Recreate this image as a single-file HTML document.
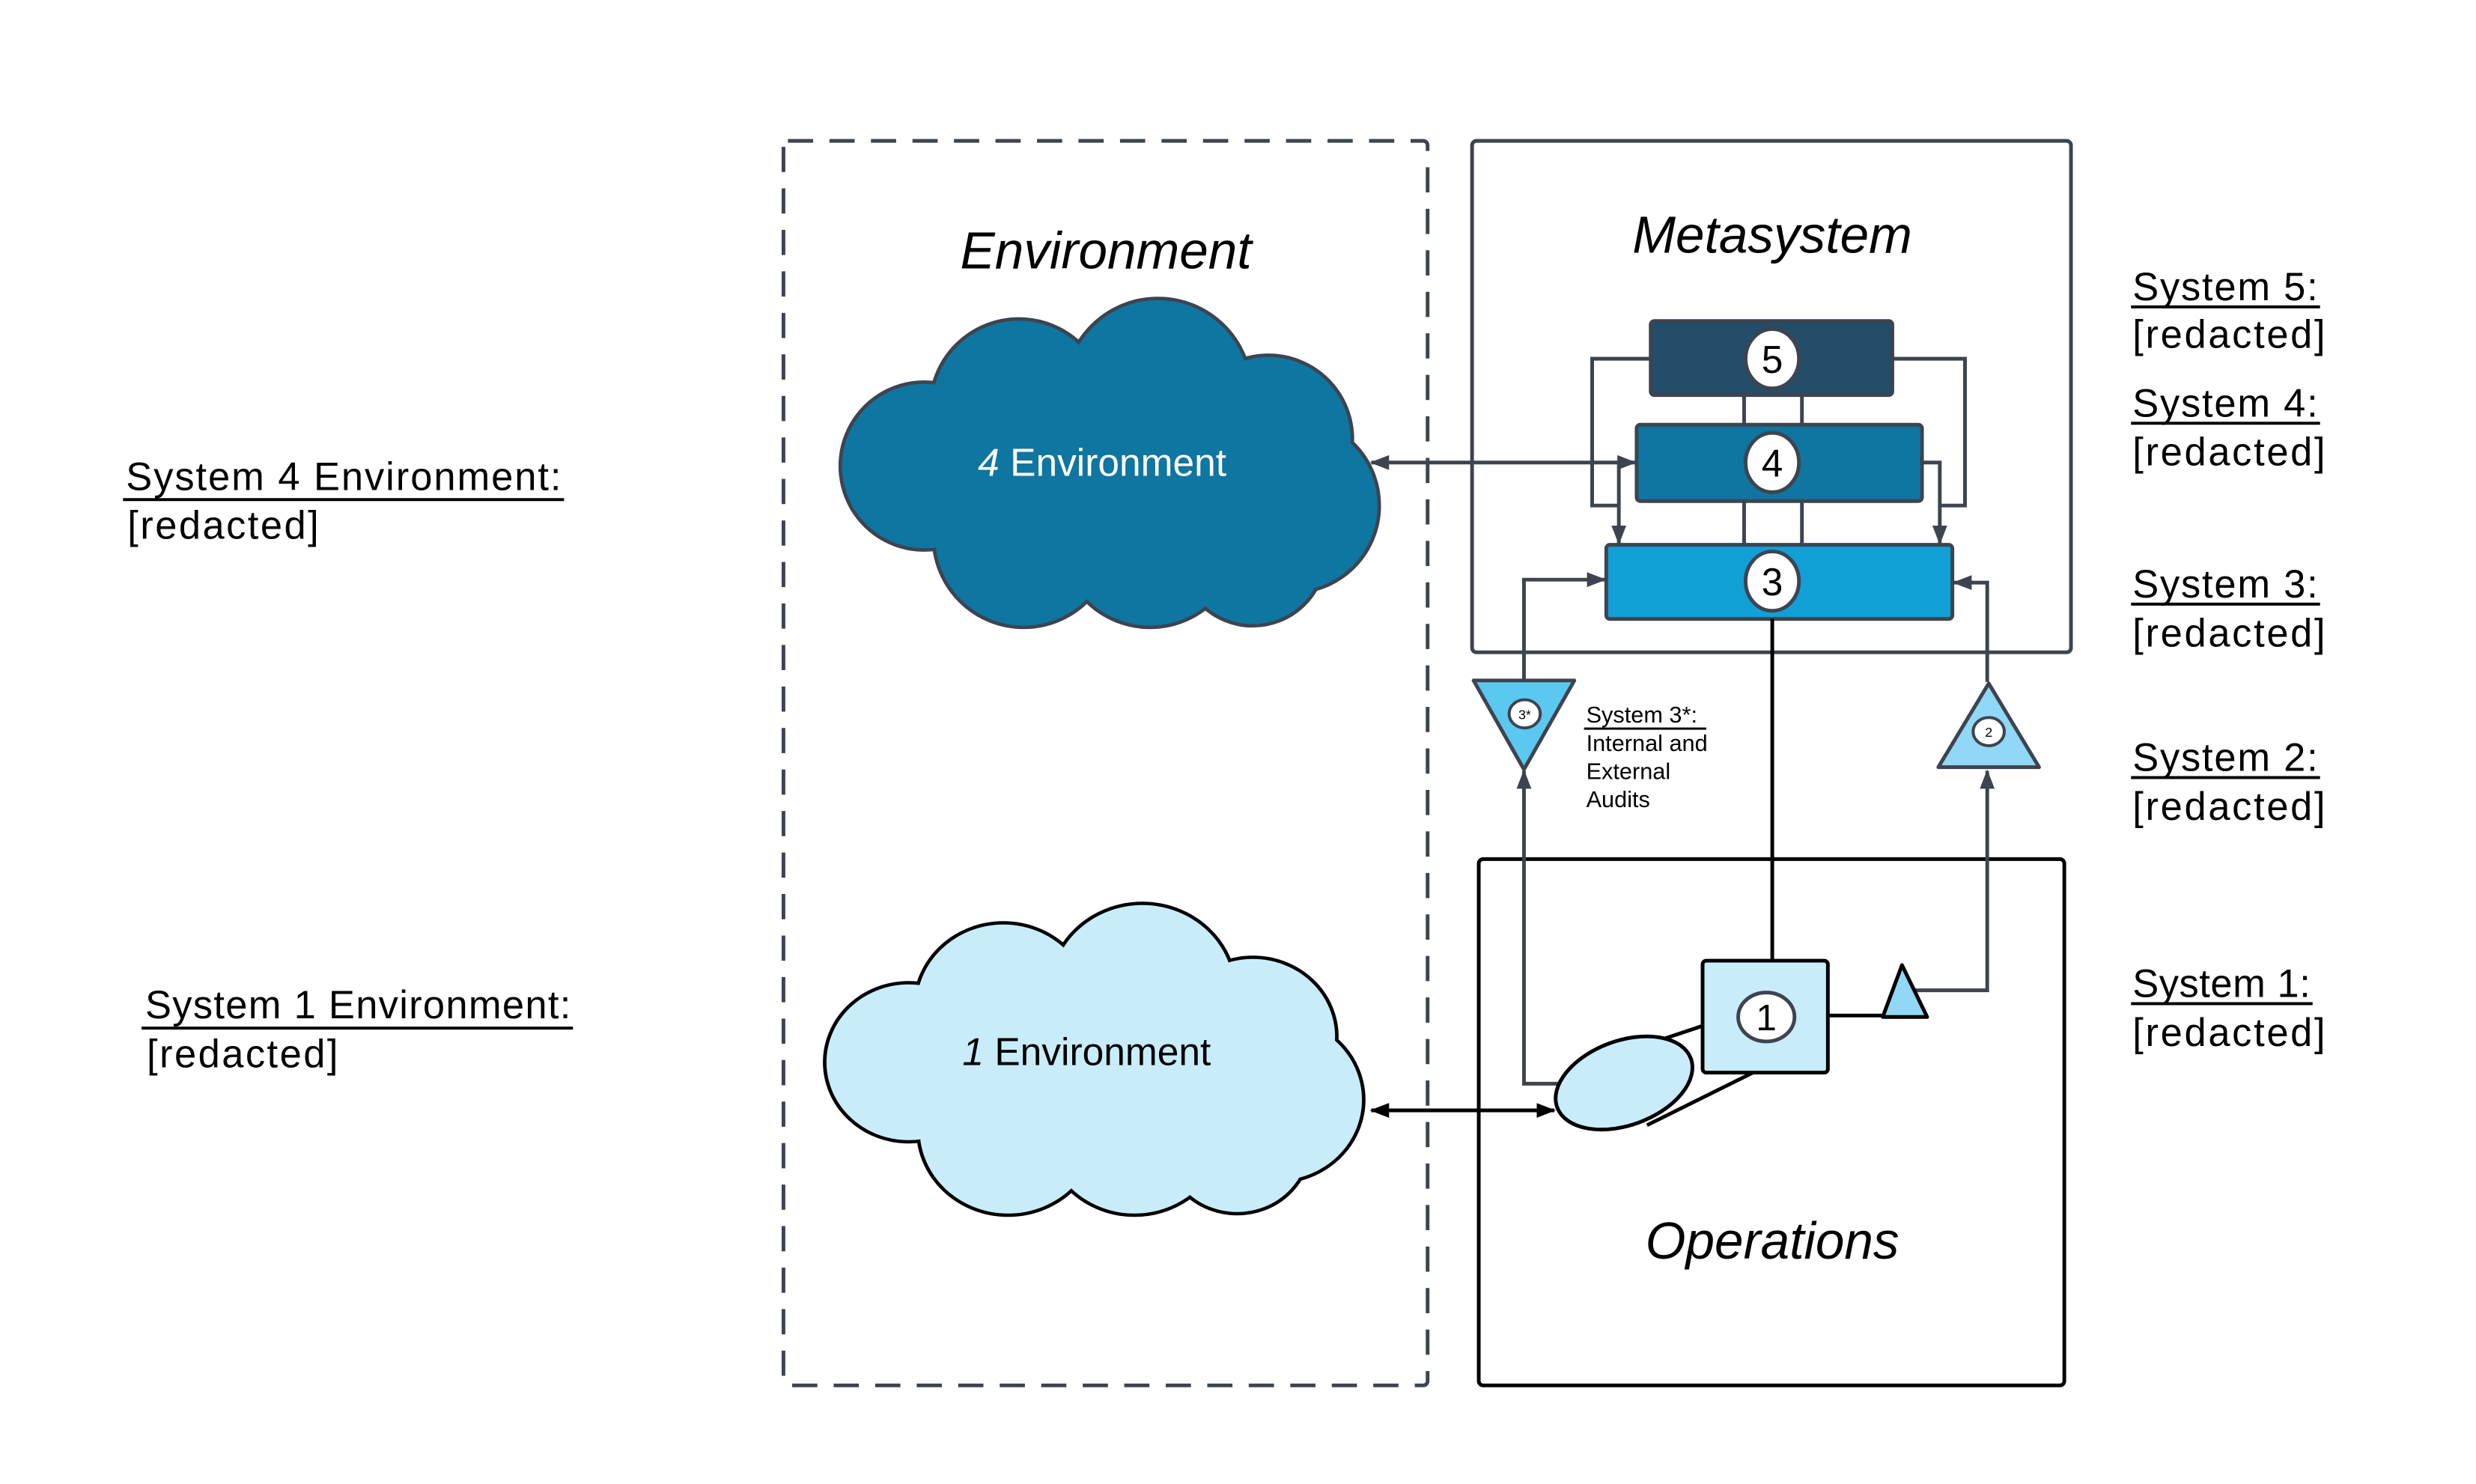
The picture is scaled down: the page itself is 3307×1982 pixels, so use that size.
<!DOCTYPE html>
<html><head><meta charset="utf-8"><style>
html,body{margin:0;padding:0;background:#fff;}
svg{display:block;}
text{font-family:"Liberation Sans",sans-serif;}
</style></head><body>
<svg width="3307" height="1982" viewBox="0 0 3307 1982" xmlns="http://www.w3.org/2000/svg">
<defs>
<marker id="ag" markerWidth="26" markerHeight="22" refX="24" refY="11" orient="auto" markerUnits="userSpaceOnUse" viewBox="0 0 26 22"><path d="M0,1 L26,11 L0,21 z" fill="#3d4450"/></marker>
<marker id="agS" markerWidth="26" markerHeight="22" refX="24" refY="11" orient="auto-start-reverse" markerUnits="userSpaceOnUse" viewBox="0 0 26 22"><path d="M0,1 L26,11 L0,21 z" fill="#3d4450"/></marker>
<marker id="ab" markerWidth="26" markerHeight="22" refX="24" refY="11" orient="auto-start-reverse" markerUnits="userSpaceOnUse" viewBox="0 0 26 22"><path d="M0,1 L26,11 L0,21 z" fill="#000"/></marker>
<g id="cloudS">
<circle cx="52" cy="105" r="52"/><circle cx="112" cy="68" r="55"/><circle cx="200" cy="58" r="58"/>
<circle cx="270" cy="88" r="52"/><circle cx="285" cy="130" r="54"/><circle cx="260" cy="160" r="45"/>
<circle cx="195" cy="150" r="56"/><circle cx="115" cy="150" r="56"/><circle cx="170" cy="110" r="70"/>
</g>
</defs>
<g transform="scale(0.99)">

<rect x="1057" y="190" width="869" height="1679" rx="6" fill="none" stroke="#3d4450" stroke-width="5" stroke-dasharray="34,22"/>
<text x="1492" y="362" font-size="70" font-style="italic" text-anchor="middle">Environment</text>

<rect x="1986" y="190" width="808" height="690" rx="6" fill="none" stroke="#3d4450" stroke-width="5"/>
<text x="2391" y="341" font-size="70" font-style="italic" text-anchor="middle">Metasystem</text>

<rect x="1995" y="1159" width="790" height="710" rx="6" fill="none" stroke="#000" stroke-width="5"/>
<text x="2391" y="1698" font-size="70" font-style="italic" text-anchor="middle">Operations</text>

<g transform="translate(1136,405) scale(2.131,2.131)">
<use href="#cloudS" fill="#3d4450" stroke="#3d4450" stroke-width="4.5"/>
<use href="#cloudS" fill="#0e76a0"/>
</g>
<text x="1487" y="642" font-size="52" fill="#fff" text-anchor="middle"><tspan font-style="italic">4</tspan> Environment</text>

<g transform="translate(1115,1221) scale(2.131,2.02)">
<use href="#cloudS" fill="#000" stroke="#000" stroke-width="4.5"/>
<use href="#cloudS" fill="#c9ecfb"/>
</g>
<text x="1466" y="1437" font-size="52" fill="#000" text-anchor="middle"><tspan font-style="italic">1</tspan> Environment</text>

<g fill="none" stroke="#3d4450" stroke-width="5">
<line x1="2353" y1="533" x2="2353" y2="573"/><line x1="2431" y1="533" x2="2431" y2="573"/>
<line x1="2353" y1="676" x2="2353" y2="735"/><line x1="2431" y1="676" x2="2431" y2="735"/>
<path d="M2227,484 H2148 V682 H2184"/>
<line x1="2184" y1="624" x2="2184" y2="733" marker-end="url(#ag)"/>
<line x1="1850" y1="624" x2="2206" y2="624" marker-start="url(#agS)" marker-end="url(#ag)"/>
<path d="M2553,484 H2651 V682 H2617"/>
<path d="M2593,624 H2617 V733" marker-end="url(#ag)"/>
<path d="M2056,916 V782 H2165" marker-end="url(#ag)"/>
<path d="M2110,1462 H2056 V1040" marker-end="url(#ag)"/>
<path d="M2681,920 V786 H2636" marker-end="url(#ag)"/>
<path d="M2582,1336 H2681 V1040" marker-end="url(#ag)"/>
</g>

<rect x="2227" y="433" width="326" height="100" rx="5" fill="#234d69" stroke="#3d4450" stroke-width="5"/>
<rect x="2208" y="573" width="385" height="103" rx="5" fill="#0e76a0" stroke="#3d4450" stroke-width="5"/>
<rect x="2167" y="735" width="467" height="100" rx="5" fill="#119fd6" stroke="#3d4450" stroke-width="5"/>
<g fill="#fff" stroke="#3d4450" stroke-width="5">
<ellipse cx="2391" cy="484" rx="36" ry="40"/>
<ellipse cx="2391" cy="624" rx="36" ry="40"/>
<ellipse cx="2391" cy="784" rx="36" ry="40"/>
</g>
<g font-size="52" text-anchor="middle">
<text x="2391" y="503">5</text><text x="2391" y="643">4</text><text x="2391" y="803">3</text>
</g>

<polygon points="1988,918 2124,918 2056,1038" fill="#5bc8f0" stroke="#3d4450" stroke-width="5" stroke-linejoin="round"/>
<ellipse cx="2057" cy="963" rx="21" ry="19" fill="#fff" stroke="#3d4450" stroke-width="4"/>
<text x="2057" y="970" font-size="18" text-anchor="middle">3*</text>
<polygon points="2683,922 2751,1035 2615,1035" fill="#90d8f5" stroke="#3d4450" stroke-width="5" stroke-linejoin="round"/>
<ellipse cx="2683" cy="987" rx="21" ry="19" fill="#fff" stroke="#3d4450" stroke-width="4"/>
<text x="2683" y="994" font-size="18" text-anchor="middle">2</text>

<g font-size="31">
<text x="2140" y="975">System 3*:</text>
<line x1="2137" y1="983" x2="2302" y2="983" stroke="#000" stroke-width="3"/>
<text x="2140" y="1013">Internal and</text>
<text x="2140" y="1051">External</text>
<text x="2140" y="1089">Audits</text>
</g>

<g stroke="#000" stroke-width="5" fill="none">
<line x1="2391" y1="835" x2="2391" y2="1296"/>
<line x1="2225" y1="1408" x2="2297" y2="1384"/>
<line x1="2222" y1="1518" x2="2365" y2="1447"/>
<line x1="2466" y1="1370" x2="2540" y2="1370"/>
<line x1="1850" y1="1498" x2="2097" y2="1498" marker-start="url(#ab)" marker-end="url(#ab)"/>
</g>
<ellipse cx="2191" cy="1461" rx="96" ry="57" transform="rotate(-20 2191 1461)" fill="#c9ecfb" stroke="#000" stroke-width="5"/>
<rect x="2297" y="1296" width="169" height="151" rx="5" fill="#c9ecfb" stroke="#000" stroke-width="5"/>
<ellipse cx="2383" cy="1372" rx="38" ry="33" fill="#fff" stroke="#3d4450" stroke-width="5"/>
<text x="2383" y="1390" font-size="50" text-anchor="middle">1</text>
<polygon points="2540,1372 2566,1302 2600,1372" fill="#90d8f5" stroke="#000" stroke-width="5" stroke-linejoin="round"/>

<g font-size="53">
<text x="2877" y="405" textLength="250">System 5:</text>
<rect x="2875" y="412" width="255" height="4" fill="#000"/>
<text x="2877" y="469" textLength="260">[redacted]</text>
<text x="2877" y="562" textLength="250">System 4:</text><rect x="2875" y="569" width="255" height="4" fill="#000"/>
<text x="2877" y="628" textLength="260">[redacted]</text>
<text x="2877" y="806" textLength="250">System 3:</text><rect x="2875" y="813" width="255" height="4" fill="#000"/>
<text x="2877" y="872" textLength="260">[redacted]</text>
<text x="2877" y="1040" textLength="250">System 2:</text><rect x="2875" y="1047" width="255" height="4" fill="#000"/>
<text x="2877" y="1106" textLength="260">[redacted]</text>
<text x="2877" y="1345" textLength="240">System 1:</text><rect x="2875" y="1352" width="245" height="4" fill="#000"/>
<text x="2877" y="1411" textLength="260">[redacted]</text>
<text x="170" y="661" textLength="587">System 4 Environment:</text><rect x="166" y="672" width="595" height="4" fill="#000"/>
<text x="172" y="727" textLength="258">[redacted]</text>
<text x="196" y="1374" textLength="574">System 1 Environment:</text><rect x="191" y="1385" width="582" height="4" fill="#000"/>
<text x="198" y="1440" textLength="258">[redacted]</text>
</g>
</g>
</svg>
</body></html>
